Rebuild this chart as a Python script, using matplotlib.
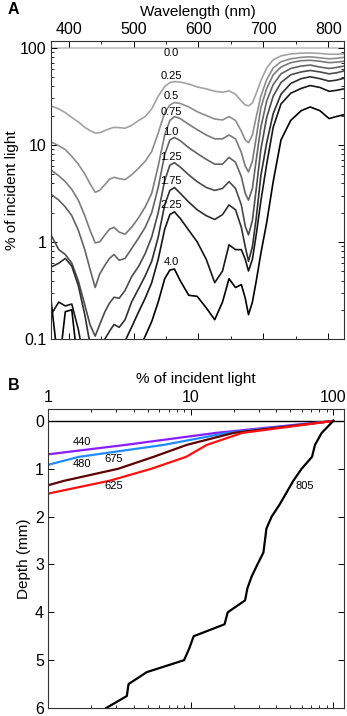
import numpy as np
import matplotlib
matplotlib.use("Agg")
import matplotlib.pyplot as plt
from matplotlib.ticker import LogLocator, MultipleLocator, NullFormatter, FixedLocator

plt.rcParams['font.family'] = ['Liberation Sans', 'DejaVu Sans']

# ---------------- Panel A data: spectral light (% of incident) at depths ----------------
wavelength = [373, 385, 395, 405, 415, 425, 433, 441, 448, 456,
              463, 470, 478, 487, 497, 508, 518, 528, 538, 548,
              556, 563, 572, 585, 598, 612, 625, 637, 647, 657,
              666, 672, 677, 683, 689, 696, 705, 715, 727, 742,
              758, 772, 787, 801, 812, 824]

surface_pct = 100.0   # depth 0.0 mm

pct_d025 = [25.1, 23.4, 21.4, 19.1, 17.2, 15.1, 14.0, 13.2, 13.3, 14.0,
            14.6, 15.1, 15.0, 14.8, 15.8, 17.8, 19.5, 23.4, 31.6, 39.8,
            43.7, 44.7, 44.2, 42.2, 39.4, 37.6, 35.5, 34.7, 35.9, 33.1,
            28.2, 25.7, 25.1, 26.9, 33.9, 45.7, 61.7, 75.0, 82.2, 86.1,
            87.7, 88.1, 87.1, 85.5, 85.5, 86.1]
pct_d050 = [10.7, 9.77, 8.91, 7.59, 6.31, 5.01, 3.98, 3.24, 3.39, 3.89,
            4.42, 4.62, 4.47, 4.37, 4.90, 5.75, 6.76, 8.51, 13.2, 21.4,
            25.7, 27.2, 26.6, 24.5, 21.9, 20.0, 18.4, 18.0, 19.5, 17.8,
            13.8, 11.2, 10.5, 12.6, 19.5, 31.6, 46.8, 61.7, 71.6, 76.7,
            79.4, 80.4, 78.5, 76.7, 77.6, 79.4]
pct_d075 = [5.50, 4.79, 4.17, 3.47, 2.69, 1.86, 1.32, 0.977, 1.00, 1.18,
            1.35, 1.41, 1.26, 1.20, 1.41, 1.78, 2.29, 3.16, 6.03, 12.6,
            17.8, 19.5, 18.6, 16.2, 14.3, 12.6, 11.5, 11.5, 12.6, 11.5,
            8.32, 6.03, 5.25, 6.76, 12.0, 24.0, 38.0, 52.5, 63.1, 70.0,
            73.3, 74.1, 72.4, 70.0, 70.8, 72.4]
pct_d100 = [3.09, 2.69, 2.29, 1.86, 1.32, 0.832, 0.525, 0.339, 0.468, 0.575,
            0.676, 0.741, 0.646, 0.676, 0.851, 1.10, 1.41, 2.00, 3.63, 7.94,
            11.2, 11.9, 11.0, 9.33, 8.13, 7.08, 6.31, 6.31, 7.41, 6.61,
            4.68, 3.16, 2.69, 3.55, 7.08, 15.1, 28.2, 41.7, 53.7, 61.0,
            64.6, 66.1, 63.1, 61.0, 62.4, 64.6]
pct_d125 = [1.18, 0.832, 0.741, 0.603, 0.398, 0.224, 0.141, 0.107, 0.141, 0.191,
            0.234, 0.269, 0.263, 0.316, 0.437, 0.562, 0.759, 1.12, 2.00, 4.27,
            6.17, 6.53, 5.89, 4.90, 4.17, 3.63, 3.39, 3.55, 4.17, 3.55,
            2.40, 1.45, 1.18, 1.66, 3.55, 8.91, 19.1, 31.6, 43.7, 52.5,
            56.2, 58.2, 56.2, 53.7, 55.0, 57.5]
pct_d175 = [0.550, 0.603, 0.676, 0.562, 0.355, 0.178, 0.0891, 0.0631, 0.0794, 0.100,
            0.120, 0.141, 0.132, 0.158, 0.240, 0.331, 0.447, 0.631, 1.12, 2.40,
            3.39, 3.63, 3.16, 2.57, 2.14, 1.86, 1.70, 1.91, 2.40, 2.14,
            1.41, 0.891, 0.631, 0.891, 1.78, 4.79, 10.5, 20.9, 33.1, 42.7,
            47.9, 50.1, 47.9, 45.2, 46.2, 48.4]
pct_d225 = [0.178, 0.240, 0.219, 0.229, 0.126, 0.0562, 0.0398, 0.0316, 0.0398, 0.0501,
            0.0631, 0.0759, 0.0759, 0.0955, 0.132, 0.191, 0.263, 0.380, 0.661, 1.35,
            1.91, 2.04, 1.74, 1.32, 1.00, 0.661, 0.380, 0.501, 0.933, 0.832,
            0.832, 0.661, 0.501, 0.661, 1.20, 2.63, 6.31, 15.1, 26.3, 33.9,
            38.0, 40.7, 38.9, 35.5, 36.3, 37.6]
pct_d400 = [0.251, 0.0501, 0.191, 0.200, 0.0501, 0.0251, 0.0200, 0.0158, 0.0200, 0.0251,
            0.0316, 0.0355, 0.0355, 0.0447, 0.0562, 0.0759, 0.107, 0.151, 0.240, 0.417,
            0.513, 0.525, 0.398, 0.282, 0.275, 0.209, 0.158, 0.240, 0.417, 0.339,
            0.363, 0.263, 0.178, 0.240, 0.398, 0.759, 1.58, 4.17, 11.2, 17.8,
            22.4, 24.5, 22.4, 18.6, 19.5, 20.4]

depth_names_A = ["0.0", "0.25", "0.5", "0.75", "1.0", "1.25", "1.75", "2.25", "4.0"]
label_pos_A = [89, 50.5, 31.4, 21.7, 13.4, 7.47, 4.19, 2.42, 0.615]

# ---------------- Panel B data: depth profiles at selected wavelengths ----------------
depth_440 = [0, 0.25, 0.5, 0.75]
pct_440 = [100, 15, 3.5, 0.72]
depth_480 = [0, 0.25, 0.5, 0.75, 1.0]
pct_480 = [100, 18, 6.5, 1.65, 0.78]
depth_675 = [0, 0.25, 0.5, 0.75, 1.0, 1.25, 1.5]
pct_675 = [100, 20, 9.4, 5.5, 3.1, 1.3, 0.65]
depth_625 = [0, 0.25, 0.5, 0.75, 1.0, 1.25, 1.5, 1.75]
pct_625 = [100, 23, 13, 9.3, 5.3, 2.7, 1.07, 0.5]
depth_805 = [0, 0.25, 0.5, 0.75, 1.0, 1.25, 1.5, 1.75, 2.0, 2.25,
             2.5, 2.75, 3.0, 3.25, 3.5, 3.75, 4.0, 4.25, 4.5, 4.75,
             5.0, 5.25, 5.5, 5.75, 6.0]
pct_805 = [100, 83, 74.5, 71, 60, 52.5, 47, 42, 37, 34,
           33.2, 32.4, 29.4, 26.8, 25.0, 24.1, 18.2, 17.3, 10.5, 9.8,
           9.0, 4.93, 3.67, 3.57, 2.56]
wl_names_B = ["440", "480", "675", "625", "805"]
label_x_B = [1.74, 1.74, 2.87, 2.87, 63.5]
label_y_B = [0.43, 0.90, 0.79, 1.35, 1.36]

# ---------------- Figure ----------------
W, H = 347, 716
fig = plt.figure(figsize=(W / 100, H / 100), dpi=100)

axA = fig.add_axes([51 / W, 1 - 339 / H, 293 / W, 298 / H])
axB = fig.add_axes([48 / W, 1 - 708 / H, 296 / W, 299 / H])

# Panel A
greys = ['#a3a3a3', '#8e8e8e', '#7a7a7a', '#636363', '#4b4b4b', '#2f2f2f', '#161616', '#000000']
axA.axhline(surface_pct, color='#c4c4c4', lw=1.3, zorder=1)
for vals, c in zip([pct_d025, pct_d050, pct_d075, pct_d100, pct_d125,
                    pct_d175, pct_d225, pct_d400], greys):
    axA.plot(wavelength, vals, color=c, lw=1.2, zorder=2,
             solid_joinstyle='round', solid_capstyle='round')

axA.set_yscale('log')
axA.set_xlim(373, 824)
axA.set_ylim(0.1, 117)
axA.xaxis.tick_top()
axA.xaxis.set_label_position('top')
axA.set_xticks([400, 500, 600, 700, 800])
axA.xaxis.set_minor_locator(MultipleLocator(50))
axA.yaxis.set_major_locator(FixedLocator([0.1, 1, 10, 100]))
axA.set_yticklabels(['0.1', '1', '10', '100'])
axA.yaxis.set_minor_locator(LogLocator(base=10, subs=np.arange(2, 10)))
axA.yaxis.set_minor_formatter(NullFormatter())
axA.tick_params(which='both', direction='in', top=True, bottom=True, left=True, right=True,
                labelbottom=False, labeltop=True, labelsize=11.5, colors='black')
axA.tick_params(which='major', length=4, width=0.7, pad=3)
axA.tick_params(which='minor', length=2.5, width=0.6)
axA.set_xlabel('Wavelength (nm)', fontsize=11, labelpad=4)
axA.set_ylabel('% of incident light', fontsize=11, labelpad=1)
for sp in axA.spines.values():
    sp.set_linewidth(0.8)
    sp.set_color('#333333')
for name, yv in zip(depth_names_A, label_pos_A):
    axA.text(558, yv, name, ha='center', va='center', fontsize=8, zorder=3)

# Panel B
colors_B = ['#8a1cff', '#1e8cff', '#5c0000', '#ff1010', '#000000']
axB.axhline(0, color='black', lw=1.0, zorder=1)
for d, p, c in zip([depth_440, depth_480, depth_675, depth_625, depth_805],
                   [pct_440, pct_480, pct_675, pct_625, pct_805], colors_B):
    axB.plot(p, d, color=c, lw=1.6, zorder=2, solid_joinstyle='round')
axB.set_xscale('log')
axB.set_xlim(1, 119)
axB.set_ylim(6, -0.25)
axB.xaxis.tick_top()
axB.xaxis.set_label_position('top')
axB.xaxis.set_major_locator(FixedLocator([1, 10, 100]))
axB.set_xticklabels(['1', '10', '100'])
axB.xaxis.set_minor_locator(LogLocator(base=10, subs=np.arange(2, 10)))
axB.xaxis.set_minor_formatter(NullFormatter())
axB.set_yticks([0, 1, 2, 3, 4, 5, 6])
axB.tick_params(which='both', direction='in', top=True, bottom=True, left=True, right=True,
                labelbottom=False, labeltop=True, labelsize=11.5)
axB.tick_params(which='major', length=4, width=0.7, pad=3)
axB.tick_params(which='minor', length=2.5, width=0.6)
axB.set_xlabel('% of incident light', fontsize=11, labelpad=5)
axB.set_ylabel('Depth (mm)', fontsize=11, labelpad=3)
for sp in axB.spines.values():
    sp.set_linewidth(0.8)
    sp.set_color('#333333')
for name, xv, yv in zip(wl_names_B, label_x_B, label_y_B):
    axB.text(xv, yv, name, ha='center', va='center', fontsize=8, zorder=3)

fig.text(8 / W, 1 - 10 / H, 'A', fontsize=11.5, fontweight='bold', ha='left', va='center')
fig.text(8 / W, 1 - 386 / H, 'B', fontsize=11.5, fontweight='bold', ha='left', va='center')

fig.savefig('out.png', dpi=100)
